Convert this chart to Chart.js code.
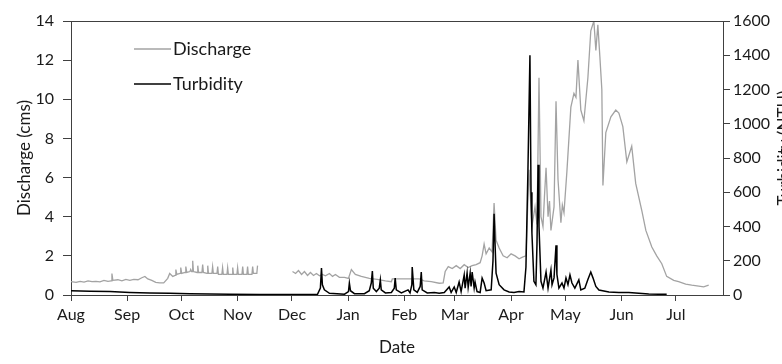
<!DOCTYPE html>
<html>
<head>
<meta charset="utf-8">
<script src="https://cdn.jsdelivr.net/npm/chart.js@4/dist/chart.umd.min.js"></script>
<style>
  html, body { margin: 0; padding: 0; background: #fff; }
  #wrap { width: 782px; height: 364px; }
</style>
</head>
<body>
<div id="wrap"><canvas id="myChart" width="782" height="364"></canvas></div>
<script>
// days counted from 1 Aug
const monthStarts = [0, 31, 61, 92, 122, 153, 184, 212, 243, 273, 304, 334];
const monthLabels = ["Aug", "Sep", "Oct", "Nov", "Dec", "Jan", "Feb", "Mar", "Apr", "May", "Jun", "Jul"];

const dischargeDays = [
  0, 2.8, 5, 7.2, 9.4, 11.6, 13.8, 16, 18.2, 20.4, 22.2, 22.6, 23.1, 25.9, 28.1, 30.3, 32.5, 34.7, 37, 39.1, 40.8,
  42.4, 44.6, 46.8, 49, 51.2, 53.4, 54.5, 56.2, 57.5, 57.9, 58.4, 60.2, 60.6, 61.1, 63, 63.4, 63.9, 65.7, 66.1, 66.6, 66.9, 67.2, 67.6,
  69.6, 70, 70.4, 72.3, 72.7, 73.1, 75.1, 75.5, 75.9, 77.8, 78.2, 78.6, 80.6, 81, 81.4, 83.3, 83.7, 84.1, 86.1, 86.5, 86.9,
  88.9, 89.3, 89.7, 91.6, 92, 92.4, 94.4, 94.8, 95.2, 97.1, 97.5, 97.9, 99.9, 100.3, 100.7, 102.6, 103, 104,
  122.3, 124, 125.6, 127.3, 128.9, 130.6, 132.2, 133.9, 135.5, 137.2, 138.8, 140.5, 142.7, 144.4, 146, 148.2, 151, 153.2, 154.8, 157,
  160.3, 164.7, 169.1, 173.6, 176.9, 177.4, 192.3, 195, 198.9, 203.3, 205.5, 206.6, 208.3, 210.5, 212.7, 214.9, 217.1, 219.3, 221.5, 223.7,
  225.9, 227, 228.1, 229.2, 230.9, 232.5, 233.6, 234.7, 236.4, 238.6, 240.8, 243, 245.2, 247.4, 249.6, 251.2, 252.9, 254.5, 256.2, 257.3,
  258.4, 259.5, 260.6, 261.4, 262.3, 263.4, 264.2, 265, 266.7, 267.8, 268.9, 270.5, 271.3, 272.2, 273.8, 276, 277.7, 278.8, 279.9, 281.5, 283.2, 285.4, 287,
  288.7, 289.8, 290.9, 292, 293.1, 293.7, 295.3, 298.1, 300.8, 302.5, 304.7, 306.9, 309.6, 311.8, 315.2, 317.4, 320.7, 323.4, 326.2, 328.9,
  332.8, 335.5, 339.4, 342.7, 346.6, 349.3, 352.1
];
const dischargeValues = [
  0.68, 0.65, 0.7, 0.66, 0.72, 0.68, 0.7, 0.67, 0.75, 0.7, 0.72, 1.1, 0.75, 0.78, 0.72, 0.8, 0.75, 0.8, 0.78, 0.88, 0.95,
  0.82, 0.75, 0.65, 0.62, 0.62, 0.85, 1.1, 0.95, 1.0, 1.3, 1.05, 1.1, 1.4, 1.1, 1.15, 1.45, 1.15, 1.2, 1.3, 1.2, 1.2, 1.75, 1.2,
  1.15, 1.5, 1.15, 1.15, 1.55, 1.15, 1.1, 1.5, 1.1, 1.1, 1.45, 1.1, 1.1, 1.45, 1.05, 1.05, 1.4, 1.05, 1.05, 1.4, 1.05,
  1.05, 1.4, 1.05, 1.05, 1.4, 1.05, 1.05, 1.45, 1.05, 1.05, 1.45, 1.05, 1.05, 1.45, 1.1, 1.1, 1.5, null,
  1.2, 1.1, 1.25, 1.05, 1.2, 1.0, 1.15, 1.0, 1.1, 0.98, 1.05, 0.98, 1.1, 0.95, 1.05, 0.9, 0.9, 0.85, 1.3, 1.05,
  0.95, 0.85, 0.8, 0.72, 0.68, 0.82, 0.82, 0.72, 0.68, 0.6, 0.62, 1.2, 1.45, 1.35, 1.5, 1.35, 1.55, 1.4, 1.5, 1.55,
  1.65, 2.0, 2.6, 2.1, 2.4, 2.2, 4.7, 2.8, 2.4, 2.0, 1.9, 2.1, 2.0, 1.85, 1.95, 2.0, 6.4, 3.5, 4.5, 3.6,
  11.1, 4.0, 3.5, 5.0, 6.5, 4.0, 4.8, 3.3, 4.5, 9.9, 5.9, 3.7, 4.6, 4.2, 6.3, 9.6, 10.3, 10.1, 12.0, 9.45, 8.9, 11.1, 13.5,
  14.0, 12.5, 13.8, 12.2, 10.5, 5.6, 8.3, 9.1, 9.45, 9.3, 8.6, 6.8, 7.6, 5.7, 4.3, 3.3, 2.45, 2.0, 1.6, 0.95,
  0.75, 0.68, 0.55, 0.5, 0.45, 0.42, 0.5
];

const turbidityDays = [
  0, 10.5, 21.5, 32.5, 43.5, 54.5, 65.6, 76.6, 87.6, 104.1, 120.7, 136.1, 137.7, 138.3, 138.8, 139.9, 142.7, 151, 153.2, 153.7,
  154.3, 156.5, 162, 164.7, 165.8, 166.4, 166.9, 168.6, 170.2, 170.8, 171.3, 173.6, 176.9, 178.5, 179, 179.6, 182.4, 186.1, 187.2, 188.2,
  188.4, 189.3, 191.2, 192.8, 193.4, 193.9, 196.7, 200.6, 203.3, 206.1, 208.8, 209.9, 211.6, 212.7, 214.3, 215.4, 217.1, 217.6, 218.7, 219.3,
  220.4, 220.9, 221.5, 222.6, 223.1, 224.2, 225.9, 227, 228.1, 229.2, 232, 233, 233.6, 234.2, 234.7, 236.4, 239.1, 241.9, 244.6, 247.4,
  250.1, 251.2, 252.3, 253.4, 254, 254.5, 255.6, 256.7, 257.3, 257.9, 258.4, 259.5, 260.6, 262.3, 263.4, 265, 265.6, 266.7, 267.8, 268.3,
  269.4, 271.1, 272.2, 273.3, 274.4, 275.5, 276.6, 278.2, 280.4, 281.5, 283.7, 285.4, 287, 288.2, 289.8, 291.5, 297, 302.5, 308, 313.5,
  319, 324.5, 328.9
];
const turbidityValues = [
  25, 22, 20, 15, 12, 10, 8, 6, 5, 3, 3, 4, 40, 158, 60, 30, 10, 5, 20, 70,
  25, 8, 8, 25, 70, 140, 40, 20, 40, 88, 30, 12, 15, 40, 99, 30, 12, 30, 12, 60,
  163, 30, 15, 50, 134, 30, 12, 15, 10, 15, 47, 15, 47, 15, 76, 20, 117, 40, 128, 45,
  128, 50, 134, 40, 76, 20, 15, 99, 70, 25, 30, 200, 475, 280, 128, 60, 30, 18, 15, 20,
  18, 163, 730, 1400, 600, 360, 80, 60, 300, 760, 400, 80, 40, 134, 40, 146, 60, 100, 290, 120,
  40, 70, 40, 100, 60, 117, 70, 40, 88, 30, 40, 90, 134, 100, 50, 29, 18, 15, 15, 10,
  6, 5, 5
];

const FONT = "Lato, 'Liberation Sans', sans-serif";
const TEXT = "#1a1a1a";
const AXIS = "#404040";

const toPoints = (xs, ys) => xs.map((x, i) => ({ x: x, y: ys[i] }));

const frame = {
  id: "frame",
  afterDatasetsDraw(chart) {
    const { ctx, chartArea: a } = chart;
    ctx.save();
    ctx.strokeStyle = AXIS;
    ctx.lineWidth = 1;
    ctx.beginPath();
    ctx.moveTo(a.left, a.top + 0.5);
    ctx.lineTo(a.right, a.top + 0.5);
    ctx.stroke();

    // legend inside the plot
    ctx.font = "18px " + FONT;
    ctx.textBaseline = "middle";
    ctx.fillStyle = TEXT;
    const rows = [49, 84];
    chart.data.datasets.forEach((ds, i) => {
      const y = rows[i];
      ctx.strokeStyle = ds.borderColor;
      ctx.lineWidth = ds.borderWidth;
      ctx.beginPath();
      ctx.moveTo(134, y);
      ctx.lineTo(171, y);
      ctx.stroke();
      ctx.fillText(ds.label, 173, y);
    });

    // right axis title, mostly cut off by the page edge
    ctx.translate(776, 148);
    ctx.rotate(-Math.PI / 2);
    ctx.textAlign = "center";
    ctx.textBaseline = "top";
    ctx.font = "17px " + FONT;
    ctx.fillText("Turbidity (NTU)", 0, 0);
    ctx.restore();
  }
};

window.onload = () => {
  const data = {
    datasets: [
      {
        label: "Discharge",
        data: toPoints(dischargeDays, dischargeValues),
        borderColor: "#a3a3a3",
        borderWidth: 1.3,
        pointRadius: 0,
        spanGaps: false,
        yAxisID: "y",
        order: 1
      },
      {
        label: "Turbidity",
        data: toPoints(turbidityDays, turbidityValues),
        borderColor: "#000000",
        borderWidth: 1.5,
        pointRadius: 0,
        yAxisID: "y2",
        order: 0
      }
    ]
  };

  const tickFont = { family: FONT, size: 16 };

  const config = {
    type: "line",
    data: data,
    options: {
      responsive: false,
      animation: false,
      layout: { padding: { top: 21, left: 0, right: 0, bottom: 0 } },
      plugins: { legend: { display: false }, tooltip: { enabled: false } },
      scales: {
        x: {
          type: "linear",
          min: 0,
          max: 360,
          afterBuildTicks: (s) => { s.ticks = monthStarts.map(v => ({ value: v })); },
          afterFit: (s) => { s.height = 69; },
          ticks: {
            autoSkip: false,
            maxRotation: 0,
            padding: 4,
            color: TEXT,
            font: tickFont,
            callback: (v) => monthLabels[monthStarts.indexOf(v)]
          },
          grid: { drawOnChartArea: false, tickLength: 6, color: AXIS },
          border: { color: AXIS },
          title: { display: true, text: "Date", color: TEXT, font: { family: FONT, size: 17 }, padding: { top: 0, bottom: 6 } }
        },
        y: {
          position: "left",
          min: 0,
          max: 14,
          afterFit: (s) => { s.width = 71; },
          ticks: { stepSize: 2, padding: 9, color: TEXT, font: tickFont },
          grid: { drawOnChartArea: false, tickLength: 8, color: AXIS },
          border: { color: AXIS },
          title: { display: true, text: "Discharge (cms)", color: TEXT, font: { family: FONT, size: 17 }, padding: { top: 14, bottom: 0 } }
        },
        y2: {
          position: "right",
          min: 0,
          max: 1600,
          afterFit: (s) => { s.width = 59; },
          ticks: { stepSize: 200, padding: 3, color: TEXT, font: tickFont, callback: (v) => String(v) },
          grid: { drawOnChartArea: false, tickLength: 7, color: AXIS },
          border: { color: AXIS }
        }
      }
    },
    plugins: [frame]
  };

  const myChart = new Chart(document.getElementById("myChart"), config);
};
</script>
</body>
</html>
